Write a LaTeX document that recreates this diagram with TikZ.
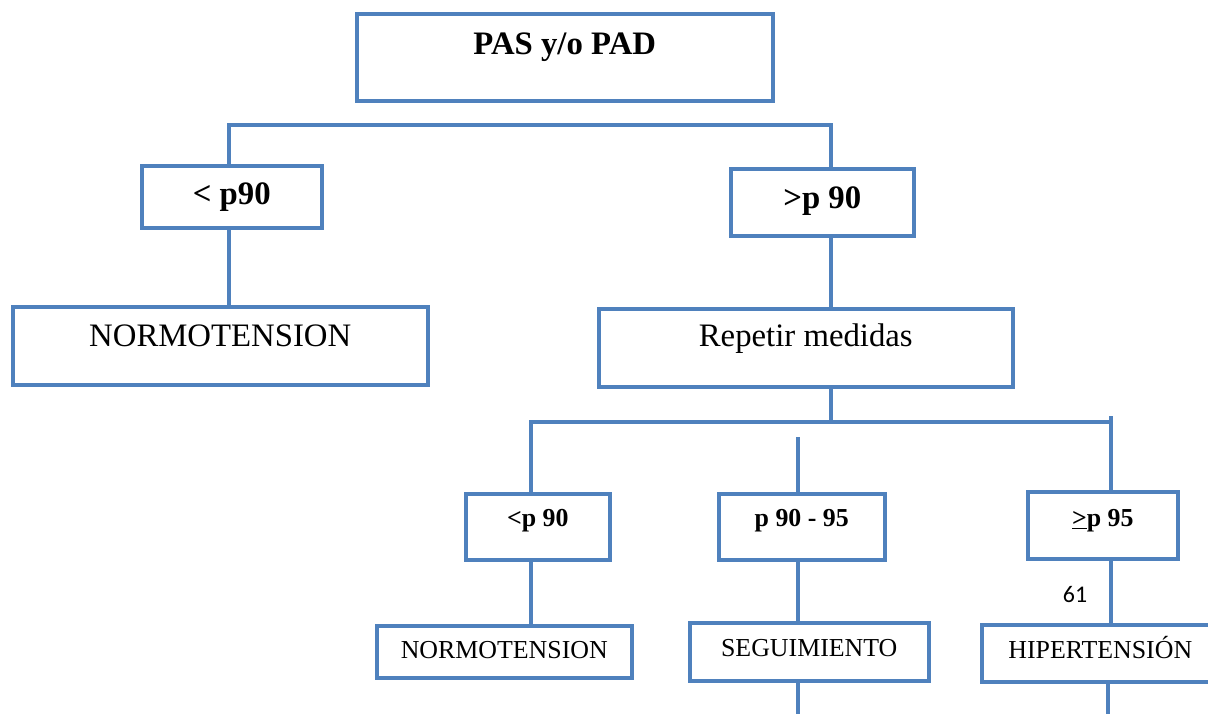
\documentclass[tikz,border=0pt]{standalone}
\usepackage{fontspec}
\setmainfont{Liberation Serif}
\newfontfamily\numfont{Carlito}
\usetikzlibrary{positioning}

\definecolor{azul}{HTML}{4F81BD}
\def\px{0.025cm}
\newcommand{\grande}{\fontsize{23.3}{28}\selectfont}
\newcommand{\chico}{\fontsize{18.4}{22}\selectfont}

\tikzset{
    caja/.style n args={3}{draw=azul, line width=2.5pt, inner sep=0pt, anchor=north west,
        minimum width=#1*\px, text height=#2*\px, text depth=#3*\px},
    linea/.style={draw=azul, line width=2.5pt, line cap=rect}
}

\begin{document}
\begin{tikzpicture}[x=0.025cm, y=-0.025cm]
                \clip (0,0) rectangle (1208,714);
                \useasboundingbox (0,0) rectangle (1208,714);
                % Boxes:
                \node[caja={416}{41}{46}, font=\grande\bfseries] (pas) at (355,12) {PAS y/o PAD};
                \node[caja={180}{39}{23}, font=\grande\bfseries] (menor) at (140,164) {< p90};
                \node[caja={183}{40}{27}, font=\grande\bfseries] (mayor) at (729,167) {>p 90};
                \node[caja={415}{40}{38}, font=\grande] (normo) at (11,305) {NORMOTENSION};
                \node[caja={414}{38}{40}, font=\grande] (repetir) at (597,307) {Repetir medidas};
                \node[caja={144}{33}{33}, font=\chico\bfseries] (menorb) at (464,492) {<p 90};
                \node[caja={166}{33}{33}, font=\chico\bfseries] (medio) at (717,492) {p 90 - 95};
                \node[caja={150}{35}{32}, font=\chico\bfseries] (mayorb) at (1026,490) {\underline{>}p 95};
                \node[caja={255}{33}{19}, font=\chico] (normob) at (375,624) {NORMOTENSION};
                \node[caja={239}{34}{24}, font=\chico] (seguim) at (688,621) {SEGUIMIENTO};
                \node[caja={237}{34}{23}, font=\chico] (hiper) at (980,623) {HIPERTENSIÓN};
                \node[font=\numfont\fontsize{17}{20}\selectfont] (pag) at (1075,595) {61};
                % Wires:
                \coordinate (b1l) at (229,125);
                \coordinate (b1r) at (831,125);
                \coordinate (b2l) at (531,422);
                \coordinate (b2r) at (1111,422);
                \coordinate (b2t) at (1111,418);
                \coordinate (m2) at (798,439);
                \coordinate (fin1) at (798,720);
                \coordinate (fin2) at (1108,720);
                \draw[linea] (b1l) -- (b1r);
                \draw[linea] (b1l) -- (b1l |- menor.north);
                \draw[linea] (b1r) -- (b1r |- mayor.north);
                \draw[linea] (b1l |- menor.south) -- (b1l |- normo.north);
                \draw[linea] (b1r |- mayor.south) -- (b1r |- repetir.north);
                \draw[linea] (b1r |- repetir.south) -- (b1r |- b2l);
                \draw[linea] (b2l) -- (b2r) -- (b2t);
                \draw[linea] (b2l) -- (b2l |- menorb.north);
                \draw[linea] (b2t) -- (b2t |- mayorb.north);
                \draw[linea] (m2) -- (m2 |- medio.north);
                \draw[linea] (b2l |- menorb.south) -- (b2l |- normob.north);
                \draw[linea] (m2 |- medio.south) -- (m2 |- seguim.north);
                \draw[linea] (b2t |- mayorb.south) -- (b2t |- hiper.north);
                \draw[linea] (m2 |- seguim.south) -- (fin1);
                \draw[linea] (fin2 |- hiper.south) -- (fin2);
            \end{tikzpicture}
\end{document}
